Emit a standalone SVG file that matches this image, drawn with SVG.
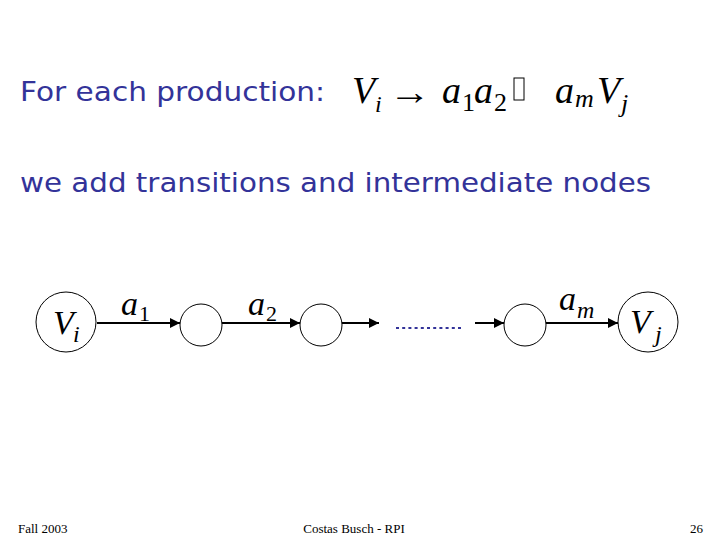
<svg xmlns="http://www.w3.org/2000/svg" width="720" height="540" viewBox="0 0 720 540">
<defs>
<marker id="ah" viewBox="0 0 10 10" refX="10" refY="5" markerWidth="10" markerHeight="10" markerUnits="userSpaceOnUse" orient="auto">
<path d="M0,0 L10,5 L0,10 z" fill="#000"/>
</marker>
</defs>
<style>
.title{font-family:"DejaVu Sans",sans-serif;font-size:27px;fill:#333399}
.math{font-family:"Liberation Serif",serif;font-style:italic;fill:#000}
.sub{font-family:"Liberation Serif",serif;font-size:22px;fill:#000}
.node{fill:#fff;stroke:#000;stroke-width:1}
.edge{stroke:#000;stroke-width:2;fill:none;marker-end:url(#ah)}
.foot{font-family:"Liberation Serif",serif;font-size:13px;fill:#000}
</style>
<rect width="720" height="540" fill="#fff"/>
<text class="title" x="20" y="101" textLength="305" lengthAdjust="spacingAndGlyphs">For each production:</text>
<g id="production">
<text class="math" x="352" y="103" font-size="38">V</text>
<text class="math" x="375" y="112" font-size="24">i</text>
<text x="389" y="104" font-family="Liberation Serif,serif" font-size="36" textLength="42" lengthAdjust="spacingAndGlyphs">→</text>
<text class="math" x="442" y="103" font-size="38">a</text>
<text x="462" y="111" font-family="Liberation Serif,serif" font-size="26">1</text>
<text class="math" x="474" y="103" font-size="38">a</text>
<text x="494" y="111" font-family="Liberation Serif,serif" font-size="26">2</text>
<rect x="514" y="78" width="10" height="22" fill="none" stroke="#000" stroke-width="1"/>
<text class="math" x="555" y="103" font-size="38">a</text>
<text class="math" x="575" y="107" font-size="26">m</text>
<text class="math" x="597" y="103" font-size="38">V</text>
<text class="math" x="621" y="112" font-size="26">j</text>
</g>
<text class="title" x="20" y="192" textLength="631" lengthAdjust="spacingAndGlyphs">we add transitions and intermediate nodes</text>
<g id="connectors">
<line class="edge" x1="97" y1="323" x2="180" y2="323"/>
<line class="edge" x1="222" y1="323" x2="300" y2="323"/>
<line class="edge" x1="342" y1="323" x2="379" y2="323"/>
<line class="edge" x1="475" y1="323" x2="504" y2="323"/>
<line class="edge" x1="546" y1="323" x2="618" y2="323"/>
<line x1="396" y1="328" x2="461" y2="328" stroke="#333399" stroke-width="2" stroke-dasharray="3,3.2"/>
<text class="math" x="121" y="315" font-size="34">a</text>
<text class="sub" x="139" y="321" font-size="24">1</text>
<text class="math" x="248" y="315" font-size="34">a</text>
<text class="sub" x="266" y="321" font-size="24">2</text>
<text class="math" x="559" y="310" font-size="34">a</text>
<text class="math" x="577" y="318" font-size="24">m</text>
</g>
<g id="Vi">
<circle class="node" cx="66" cy="322" r="30"/>
<text class="math" x="53" y="334" font-size="34">V</text>
<text class="math" x="73" y="342" font-size="24">i</text>
</g>
<g id="n1"><circle class="node" cx="201" cy="325" r="21"/></g>
<g id="n2"><circle class="node" cx="321" cy="325" r="21"/></g>
<g id="n3"><circle class="node" cx="525" cy="325" r="21"/></g>
<g id="Vj">
<circle class="node" cx="648" cy="322" r="30"/>
<text class="math" x="630" y="333" font-size="34">V</text>
<text class="math" x="655" y="342" font-size="24">j</text>
</g>
<text class="foot" x="18" y="533">Fall 2003</text>
<text class="foot" x="354" y="533" text-anchor="middle">Costas Busch - RPI</text>
<text class="foot" x="703" y="533" text-anchor="end">26</text>
</svg>
